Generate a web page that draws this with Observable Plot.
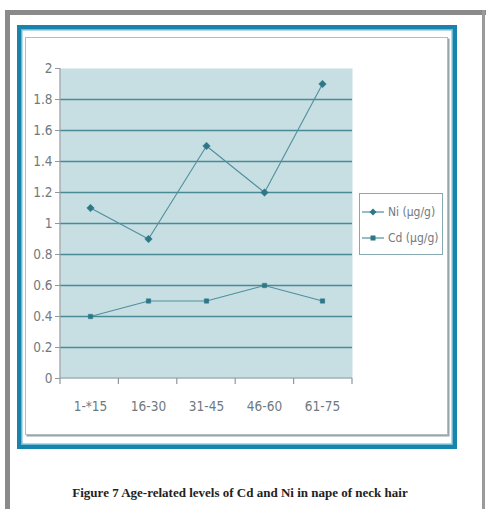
<!DOCTYPE html>
<html>
<head>
<meta charset="utf-8">
<script src="https://cdn.jsdelivr.net/npm/d3@7"></script>
<script src="https://cdn.jsdelivr.net/npm/@observablehq/plot@0.6"></script>
<style>
  html, body { margin: 0; padding: 0; background: #fff; }
  #page { position: relative; width: 486px; height: 509px; overflow: hidden; background: #fff; }
  .abs { position: absolute; box-sizing: border-box; }
  #outerTop { left: 5px; top: 10px; width: 481px; height: 5px; background: #8a8a8a; }
  #outerLeft { left: 5px; top: 10px; width: 5px; height: 499px; background: #8a8a8a; }
  #outerRight { left: 482px; top: 10px; width: 3px; height: 499px; background: #9a9a9a; }
  #blue { left: 17px; top: 25px; width: 440px; height: 424px; border: 4px solid #1684ad; box-shadow: inset 0 0 0 1.5px #6fb8d2; }
  #inner { left: 25px; top: 37px; width: 423px; height: 398px; border: 1.5px solid #b3bdc0; box-shadow: 1.5px 1.5px 0 #9aa5a9; }
  #chart { left: 26px; top: 38px; }
  #legend { left: 359px; top: 193px; width: 84px; height: 62px; border: 1px solid #86a9b1; background: #fff;
            font-family: "DejaVu Sans Condensed", "Liberation Sans Narrow", sans-serif; font-size: 12px; color: #6f7a80; }
  .item { position: absolute; left: 2px; height: 14px; display: flex; align-items: center; white-space: nowrap; }
  .item svg { margin-right: 4px; }
  #caption { left: 0; width: 480px; top: 485px; text-align: center;
             font-family: "Liberation Serif", "Times New Roman", serif; font-weight: bold; font-size: 13px; color: #222; }
</style>
</head>
<body>
<div id="page">
  <div class="abs" id="outerTop"></div>
  <div class="abs" id="outerLeft"></div>
  <div class="abs" id="outerRight"></div>
  <div class="abs" id="blue"></div>
  <div class="abs" id="inner"></div>
  <div class="abs" id="chart"></div>
  <div class="abs" id="legend"></div>
  <div class="abs" id="caption"></div>
</div>
<script>
// ---- data ----
const ageGroups = ["1-*15", "16-30", "31-45", "46-60", "61-75"];
const niValues = [1.1, 0.9, 1.5, 1.2, 1.9];
const cdValues = [0.4, 0.5, 0.5, 0.6, 0.5];
const yTicks = [0, 0.2, 0.4, 0.6, 0.8, 1, 1.2, 1.4, 1.6, 1.8, 2];
const seriesNames = ["Ni  (\u00b5g/g)", "Cd  (\u00b5g/g)"];
const captionText = "Figure 7 Age-related levels of  Cd and Ni in nape of neck hair";

// ---- styles ----
const lineColor = "#4f909d";
const markColor = "#2d7786";
const gridColor = "#4a8a97";
const axisColor = "#8f989c";
const textColor = "#6f7a80";
const bgColor = "#c7dee3";

const rows = [];
ageGroups.forEach((g, i) => {
  rows.push({age: g, value: niValues[i], series: seriesNames[0]});
  rows.push({age: g, value: cdValues[i], series: seriesNames[1]});
});
const ni = rows.filter(d => d.series === seriesNames[0]);
const cd = rows.filter(d => d.series === seriesNames[1]);

// axis lines + category boundary ticks
function axisFrame(index, scales, values, dims) {
  const g = d3.create("svg:g").attr("stroke", axisColor).attr("stroke-width", 1.2);
  const x0 = dims.marginLeft, x1 = dims.width - dims.marginRight;
  const y0 = dims.marginTop, y1 = dims.height - dims.marginBottom;
  g.append("line").attr("x1", x0).attr("x2", x0).attr("y1", y0).attr("y2", y1 + 0.5);
  g.append("line").attr("x1", x0).attr("x2", x1).attr("y1", y1).attr("y2", y1);
  const n = ageGroups.length;
  for (let i = 0; i <= n; i++) {
    const x = x0 + (x1 - x0) * i / n;
    g.append("line").attr("x1", x).attr("x2", x).attr("y1", y1).attr("y2", y1 + 6);
  }
  return g.node();
}

const fontNarrow = "'DejaVu Sans Condensed', 'Liberation Sans Narrow', sans-serif";

const chart = Plot.plot({
  width: 420,
  height: 395,
  marginLeft: 34,
  marginRight: 94,
  marginTop: 30,
  marginBottom: 55,
  style: {fontFamily: fontNarrow, fontSize: "13.5px", color: textColor, background: "transparent"},
  x: {type: "point", domain: ageGroups, padding: 0.5, label: null},
  y: {domain: [0, 2], label: null},
  marks: [
    Plot.frame({fill: bgColor, stroke: "none"}),
    Plot.ruleY(yTicks.filter(t => t > 0 && t < 2), {stroke: gridColor, strokeWidth: 1.6}),
    axisFrame,
    Plot.axisY({ticks: yTicks, tickSize: 5, tickPadding: 3, stroke: axisColor, tickFormat: d => String(d), fill: textColor}),
    Plot.axisX({tickSize: 0, tickPadding: 23, fill: textColor}),
    Plot.line(ni, {x: "age", y: "value", stroke: lineColor, strokeWidth: 1.1}),
    Plot.line(cd, {x: "age", y: "value", stroke: lineColor, strokeWidth: 1.1}),
    Plot.dot(ni, {x: "age", y: "value", symbol: "diamond2", r: 3.4, fill: markColor, stroke: markColor, strokeWidth: 0.5}),
    Plot.dot(cd, {x: "age", y: "value", symbol: "square2", r: 2.8, fill: markColor, stroke: markColor, strokeWidth: 0.5})
  ]
});
document.getElementById("chart").appendChild(chart);

// legend
const legend = document.getElementById("legend");
const legendSymbols = ["diamond", "square"];
seriesNames.forEach((name, i) => {
  const item = document.createElement("div");
  item.className = "item";
  item.style.top = (i === 0 ? 11 : 37) + "px";
  const sym = legendSymbols[i] === "diamond"
    ? `<polygon points="11,3.5 14.5,7 11,10.5 7.5,7" fill="${markColor}"/>`
    : `<rect x="8.5" y="4.5" width="5" height="5" fill="${markColor}"/>`;
  item.innerHTML = `<svg width="22" height="14"><line x1="0" x2="22" y1="7" y2="7" stroke="${lineColor}" stroke-width="1.2"/>${sym}</svg><span>${name}</span>`;
  legend.appendChild(item);
});

document.getElementById("caption").textContent = captionText;
</script>
</body>
</html>
